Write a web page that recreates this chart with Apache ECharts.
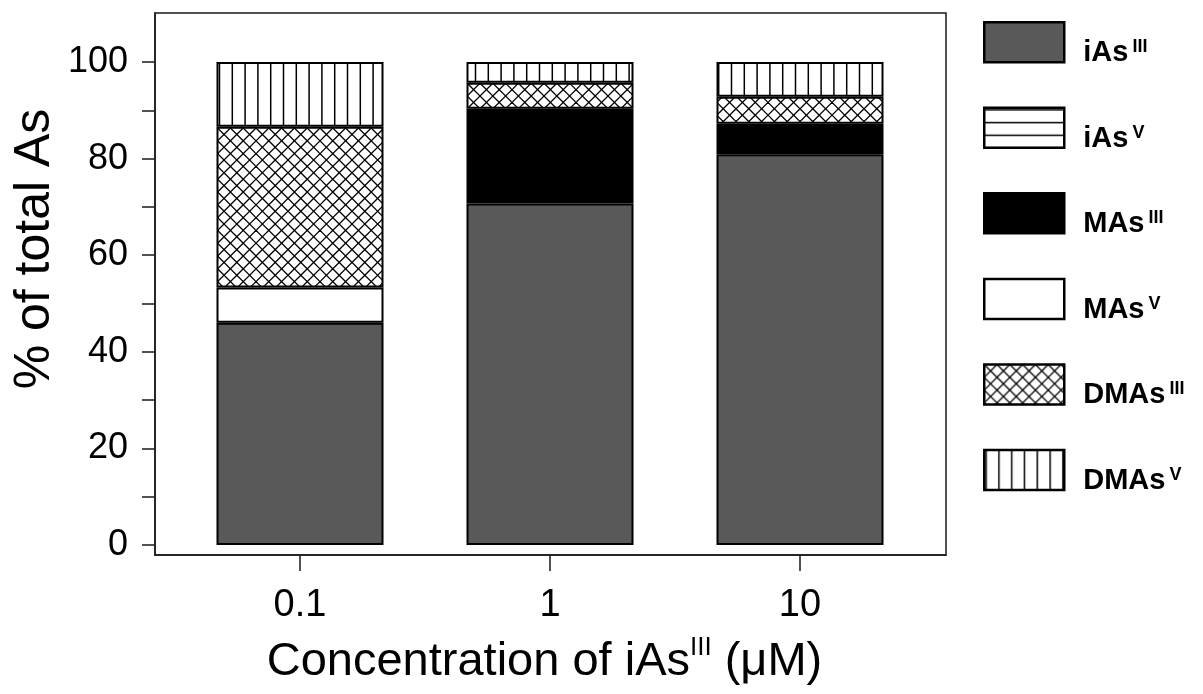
<!DOCTYPE html>
<html>
<head>
<meta charset="utf-8">
<title>Arsenic species distribution</title>
<script src="https://cdn.jsdelivr.net/npm/echarts@6/dist/echarts.min.js"></script>
<style>
  html, body { margin: 0; padding: 0; background: #fff; }
  #chart { width: 1203px; height: 694px; }
</style>
</head>
<body>
<div id="chart"></div>
<script>
// Exposure concentrations of iAsIII (µM)
const concentrations = ['0.1', '1', '10'];

// Arsenic species, stacked bottom to top
const speciesBase = ['iAs', 'iAs', 'MAs', 'MAs', 'DMAs', 'DMAs'];
const speciesValence = ['III', 'V', 'III', 'V', 'III', 'V'];

// Share of total As (%) for each species at 0.1, 1 and 10 µM
const iAsIII = [46.0, 70.7, 80.9];
const iAsV = [0, 0, 0];
const MAsIII = [0, 19.6, 6.3];
const MAsV = [7.3, 0, 0];
const DMAsIII = [33.3, 5.4, 5.6];
const DMAsV = [13.4, 4.3, 7.2];

// Axis tick values
const yTickValues = [0, 10, 20, 30, 40, 50, 60, 70, 80, 90, 100];
const yLabelValues = [0, 20, 40, 60, 80, 100];

const speciesValues = [iAsIII, iAsV, MAsIII, MAsV, DMAsIII, DMAsV];
const FONT = '"Liberation Sans", Arial, Helvetica, sans-serif';
const Y_MIN = -2.07, Y_MAX = 110.14;

// Tiled hatch fills
const PERIOD = 12.8;
function hatch(draw) {
  const c = document.createElement('canvas');
  c.width = 64; c.height = 64;
  const g = c.getContext('2d');
  g.fillStyle = '#ffffff';
  g.fillRect(0, 0, 64, 64);
  draw(g);
  return { image: c, repeat: 'repeat' };
}
const horizontalLines = hatch(g => {
  g.strokeStyle = '#000'; g.lineWidth = 1.5;
  for (let k = 0; k < 5; k++) {
    const y = 1.9 + k * PERIOD;
    g.beginPath(); g.moveTo(0, y); g.lineTo(64, y); g.stroke();
  }
});
const verticalLines = hatch(g => {
  g.strokeStyle = '#000'; g.lineWidth = 1.5;
  for (let k = 0; k < 5; k++) {
    const x = 1.9 + k * PERIOD;
    g.beginPath(); g.moveTo(x, 0); g.lineTo(x, 64); g.stroke();
  }
});
const crossHatch = hatch(g => {
  g.strokeStyle = '#000'; g.lineWidth = 1.3;
  for (let k = -6; k <= 11; k++) {
    const o = k * PERIOD;
    g.beginPath(); g.moveTo(o, 0); g.lineTo(o + 64, 64); g.stroke();
    g.beginPath(); g.moveTo(o, 0); g.lineTo(o - 64, 64); g.stroke();
  }
});

const fills = ['#595959', horizontalLines, '#000000', '#ffffff', crossHatch, verticalLines];
const seriesNames = speciesBase.map((b, i) => b + speciesValence[i]);

const series = speciesValues.map((vals, i) => ({
  name: seriesNames[i],
  type: 'bar',
  stack: 'total',
  xAxisIndex: 0,
  yAxisIndex: 0,
  barWidth: 167,
  data: vals.map(v => (v === 0 ? '-' : v)),
  itemStyle: {
    color: fills[i],
    borderColor: '#000',
    borderWidth: 2
  },
  emphasis: { disabled: true }
}));

const lineColor = '#1a1a1a';

const chart = echarts.init(document.getElementById('chart'), null, { renderer: 'canvas' });
chart.setOption({
  animation: false,
  backgroundColor: '#ffffff',
  textStyle: { fontFamily: FONT, color: '#000' },
  grid: [
    // bar area: three 250 px category bands
    { left: 175, top: 13, width: 750, height: 542, show: false, outerBoundsMode: 'none', containLabel: false },
    // plot frame carrying the visible axes
    { left: 155, top: 13, width: 791, height: 542, show: true, borderColor: lineColor, borderWidth: 1.5, outerBoundsMode: 'none', containLabel: false }
  ],
  xAxis: [
    {
      gridIndex: 0,
      type: 'category',
      data: concentrations,
      boundaryGap: true,
      axisLine: { show: false }, axisTick: { show: false }, axisLabel: { show: false },
      splitLine: { show: false }
    },
    {
      gridIndex: 1,
      type: 'value',
      min: -0.58, max: 2.584,
      splitLine: { show: false },
      axisLine: { show: true, onZero: false, lineStyle: { color: lineColor, width: 1.5 } },
      axisTick: { show: true, length: 16, customValues: [0, 1, 2], lineStyle: { color: lineColor, width: 1.5 } },
      axisLabel: {
        customValues: [0, 1, 2],
        formatter: v => concentrations[Math.round(v)],
        fontSize: 38, color: '#000', fontFamily: FONT, margin: 32
      },
      name: '{t|Concentration of iAs}{s|III}{t| (μM)}',
      nameLocation: 'middle',
      nameGap: 80,
      nameMoveOverlap: false,
      nameTextStyle: {
        padding: [0, 12, 0, 0],
        rich: {
          t: { fontSize: 47, lineHeight: 54, fontFamily: FONT, color: '#000' },
          s: { fontSize: 26, lineHeight: 39, verticalAlign: 'top', fontFamily: FONT, color: '#000' }
        }
      }
    }
  ],
  yAxis: [
    {
      gridIndex: 0,
      type: 'value',
      min: Y_MIN, max: Y_MAX,
      show: false,
      splitLine: { show: false }
    },
    {
      gridIndex: 1,
      type: 'value',
      min: Y_MIN, max: Y_MAX,
      splitLine: { show: false },
      axisLine: { show: true, onZero: false, lineStyle: { color: lineColor, width: 1.5 } },
      axisTick: { show: true, length: 13, customValues: yTickValues, lineStyle: { color: lineColor, width: 1.5 } },
      axisLabel: {
        customValues: yLabelValues,
        fontSize: 36, color: '#000', fontFamily: FONT, margin: 27
      },
      name: '% of total As',
      nameLocation: 'middle',
      nameGap: 91,
      nameMoveOverlap: false,
      nameTextStyle: { fontSize: 50, lineHeight: 58, fontFamily: FONT, color: '#000', padding: [0, 0, 0, 70] }
    }
  ],
  legend: {
    orient: 'vertical',
    left: 978, top: 16,
    icon: 'rect',
    itemWidth: 80, itemHeight: 40, itemGap: 38.8,
    selectedMode: false,
    itemStyle: { borderColor: '#000', borderWidth: 2.5 },
    formatter: name => {
      const i = seriesNames.indexOf(name);
      return '{b|' + speciesBase[i] + '}{s|' + speciesValence[i] + '}';
    },
    textStyle: {
      padding: [22, 0, 0, 14],
      rich: {
        b: { fontSize: 29, lineHeight: 30, fontWeight: 'bold', fontFamily: FONT, color: '#000' },
        s: { fontSize: 18, lineHeight: 9, fontWeight: 'bold', verticalAlign: 'top', fontFamily: FONT, color: '#000', padding: [0, 0, 0, 4] }
      }
    },
    data: seriesNames
  },
  series: series
});
</script>
</body>
</html>
